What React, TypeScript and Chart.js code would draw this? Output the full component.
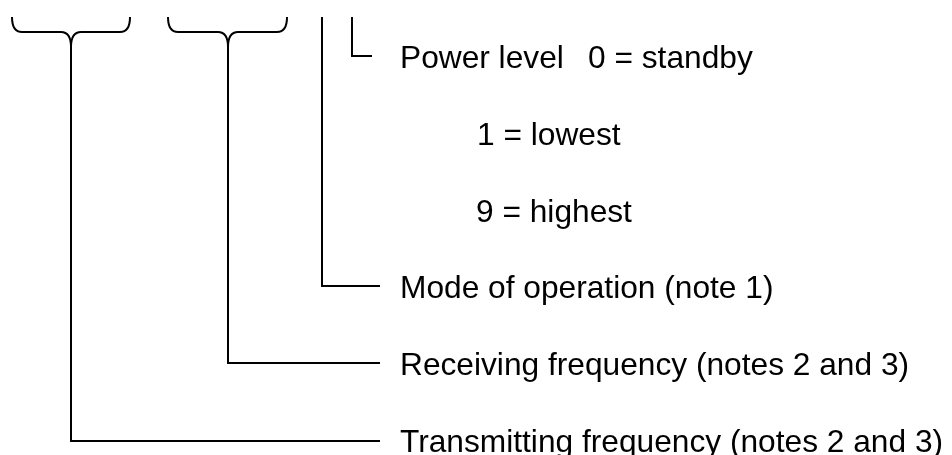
import React, { useEffect, useRef } from "react";
import { Chart, registerables } from "chart.js";

Chart.register(...registerables);

// Diagram extent (units)
const X_MAX = 952;
const Y_MAX = 455;

// Text labels
const labelTexts = [
  "Power level",
  "0 = standby",
  "1 = lowest",
  "9 = highest",
  "Mode of operation (note 1)",
  "Receiving frequency (notes 2 and 3)",
  "Transmitting frequency (notes 2 and 3)",
];
const labelX = [400, 588, 477, 476, 400, 400, 400];
const labelBaseline = [68, 68, 145, 222, 298, 375, 452];

// Connector lines (each is a polyline)
const powerLine = [
  { x: 352, y: 17 },
  { x: 352, y: 56 },
  { x: 372, y: 56 },
];
const modeLine = [
  { x: 322, y: 17 },
  { x: 322, y: 286 },
  { x: 380, y: 286 },
];
const receivingLine = [
  { x: 228, y: 47 },
  { x: 228, y: 363 },
  { x: 380, y: 363 },
];
const transmittingLine = [
  { x: 71, y: 47 },
  { x: 71, y: 441 },
  { x: 380, y: 441 },
];

// Braces
const braceLeft = [12, 168];
const braceRight = [130, 287];
const braceCenter = [71, 228];
const braceTop = 17;
const braceBar = 32;
const braceTip = 47;

const FONT = "31.7px 'Liberation Sans', Arial, Helvetica, sans-serif";

const diagramPlugin = {
  id: "diagramPlugin",
  afterDatasetsDraw(chart: any) {
    const ctx = chart.ctx;
    const xs = chart.scales.x;
    const ys = chart.scales.y;
    const px = (v: number) => xs.getPixelForValue(v);
    const py = (v: number) => ys.getPixelForValue(v);
    ctx.save();
    // braces
    ctx.strokeStyle = "#000";
    ctx.lineWidth = 2;
    ctx.lineJoin = "round";
    ctx.lineCap = "butt";
    for (let i = 0; i < braceLeft.length; i++) {
      const l = braceLeft[i];
      const r = braceRight[i];
      const c = braceCenter[i];
      const rad = 10;
      ctx.beginPath();
      ctx.moveTo(px(l), py(braceTop));
      ctx.quadraticCurveTo(px(l), py(braceBar), px(l + rad), py(braceBar));
      ctx.lineTo(px(c - rad), py(braceBar));
      ctx.quadraticCurveTo(px(c), py(braceBar), px(c), py(braceTip));
      ctx.quadraticCurveTo(px(c), py(braceBar), px(c + rad), py(braceBar));
      ctx.lineTo(px(r - rad), py(braceBar));
      ctx.quadraticCurveTo(px(r), py(braceBar), px(r), py(braceTop));
      ctx.stroke();
    }
    // labels
    ctx.fillStyle = "#000";
    ctx.font = FONT;
    ctx.textAlign = "left";
    ctx.textBaseline = "alphabetic";
    labelTexts.forEach((t, i) => {
      ctx.fillText(t, px(labelX[i]), py(labelBaseline[i]));
    });
    ctx.restore();
  },
};

export default function App() {
  const ref = useRef<HTMLCanvasElement | null>(null);
  useEffect(() => {
    if (!ref.current) return;
    const lines = [powerLine, modeLine, receivingLine, transmittingLine];
    const chart = new Chart(ref.current, {
      type: "scatter",
      data: {
        datasets: lines.map((pts) => ({
          data: pts,
          showLine: true,
          borderColor: "#000",
          borderWidth: 2,
          pointRadius: 0,
          pointHoverRadius: 0,
          fill: false,
          tension: 0,
        })),
      },
      options: {
        animation: false,
        responsive: true,
        maintainAspectRatio: false,
        layout: { padding: 0 },
        events: [],
        plugins: {
          legend: { display: false },
          tooltip: { enabled: false },
        },
        scales: {
          x: { type: "linear", min: 0, max: X_MAX, display: false },
          y: { type: "linear", min: 0, max: Y_MAX, reverse: true, display: false },
        },
      },
      plugins: [diagramPlugin],
    });
    return () => chart.destroy();
  }, []);
  return (
    <div
      style={{
        position: "fixed",
        left: 0,
        top: 0,
        width: "952px",
        height: "455px",
        background: "#fff",
      }}
    >
      <canvas ref={ref} />
    </div>
  );
}
